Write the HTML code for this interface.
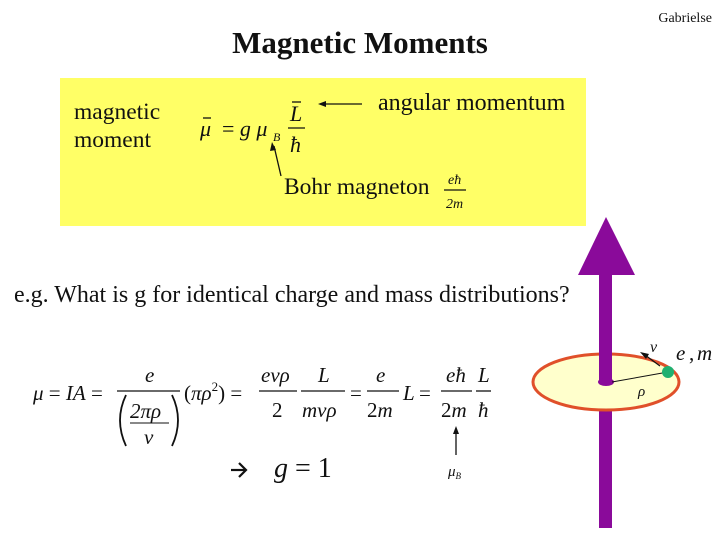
<html><body style="margin:0;background:#fff">
<svg width="720" height="539" xmlns="http://www.w3.org/2000/svg" font-family="Liberation Serif, serif" fill="#111">
<text x="712" y="22" font-size="14" text-anchor="end">Gabrielse</text>
<text x="360" y="53" font-size="31" font-weight="bold" text-anchor="middle">Magnetic Moments</text>
<rect x="60" y="78" width="526" height="148" fill="#ffff66"/>
<text x="74" y="119" font-size="23.5">magnetic</text>
<text x="74" y="147" font-size="23.5">moment</text>
<text x="200" y="136" font-size="22" font-style="italic">μ</text>
<line x1="203" y1="118" x2="211" y2="118" stroke="#111" stroke-width="1.3"/>
<text x="222" y="136" font-size="22">= <tspan font-style="italic">g μ</tspan></text>
<text x="273" y="141" font-size="12" font-style="italic">B</text>
<text x="290" y="121" font-size="22" font-style="italic">L</text>
<line x1="292" y1="102" x2="301" y2="102" stroke="#111" stroke-width="1.3"/>
<line x1="288" y1="128" x2="305" y2="128" stroke="#111" stroke-width="1.3"/>
<text x="290" y="152" font-size="22" font-style="italic">ħ</text>
<line x1="322" y1="104" x2="362" y2="104" stroke="#111" stroke-width="1.3"/>
<polygon points="318,104 326,101 326,107" fill="#111"/>
<text x="378" y="110" font-size="24">angular momentum</text>
<line x1="274" y1="146" x2="281" y2="176" stroke="#111" stroke-width="1.3"/>
<polygon points="272,142 270,151 276,150" fill="#111"/>
<text x="284" y="194" font-size="23.5">Bohr magneton</text>
<text x="448" y="184" font-size="14" font-style="italic">eħ</text>
<line x1="444" y1="190" x2="466" y2="190" stroke="#111" stroke-width="1.2"/>
<text x="446" y="208" font-size="14" font-style="italic">2m</text>
<text x="14" y="302" font-size="24">e.g. What is g for identical charge and mass distributions?</text>
<g font-size="21">
<text x="33" y="400"><tspan font-style="italic">μ</tspan> = <tspan font-style="italic">IA</tspan> =</text>
<text x="145" y="382" font-style="italic">e</text>
<line x1="117" y1="391" x2="180" y2="391" stroke="#111" stroke-width="1.3"/>
<path d="M126,395 Q114,420 126,446" fill="none" stroke="#111" stroke-width="1.8"/>
<path d="M172,395 Q184,420 172,446" fill="none" stroke="#111" stroke-width="1.8"/>
<text x="130" y="418" font-style="italic">2πρ</text>
<line x1="130" y1="423" x2="169" y2="423" stroke="#111" stroke-width="1"/>
<text x="144" y="444" font-style="italic">v</text>
<text x="184" y="400">(<tspan font-style="italic">πρ</tspan><tspan font-size="13" dy="-9">2</tspan><tspan dy="9">) =</tspan></text>
<text x="261" y="382" font-style="italic">evρ</text>
<line x1="259" y1="391" x2="297" y2="391" stroke="#111" stroke-width="1.3"/>
<text x="272" y="417">2</text>
<text x="318" y="382" font-style="italic">L</text>
<line x1="301" y1="391" x2="345" y2="391" stroke="#111" stroke-width="1.3"/>
<text x="302" y="417" font-style="italic">mvρ</text>
<text x="350" y="400">=</text>
<text x="376" y="382" font-style="italic">e</text>
<line x1="367" y1="391" x2="399" y2="391" stroke="#111" stroke-width="1.3"/>
<text x="367" y="417">2<tspan font-style="italic">m</tspan></text>
<text x="403" y="400" font-style="italic">L</text>
<text x="419" y="400">=</text>
<text x="446" y="382" font-style="italic">eħ</text>
<line x1="441" y1="391" x2="472" y2="391" stroke="#111" stroke-width="1.3"/>
<text x="441" y="417">2<tspan font-style="italic">m</tspan></text>
<text x="478" y="382" font-style="italic">L</text>
<line x1="476" y1="391" x2="491" y2="391" stroke="#111" stroke-width="1.3"/>
<text x="478" y="417" font-style="italic">ħ</text>
</g>
<line x1="456" y1="455" x2="456" y2="430" stroke="#111" stroke-width="1.3"/>
<polygon points="456,426 453,434 459,434" fill="#111"/>
<text x="448" y="476" font-size="15" font-style="italic">μ<tspan font-size="9" dy="3">B</tspan></text>
<line x1="231" y1="470" x2="245" y2="470" stroke="#111" stroke-width="2.2"/>
<polyline points="239,463 246,470 239,477" fill="none" stroke="#111" stroke-width="2.2"/>
<text x="274" y="477" font-size="28"><tspan font-style="italic">g</tspan> = 1</text>
<rect x="599" y="400" width="13" height="128" fill="#8a0a9a"/>
<polygon points="606,217 578,275 635,275" fill="#8a0a9a"/>
<ellipse cx="606" cy="382" rx="73" ry="28" fill="#ffffcc" stroke="#e0502a" stroke-width="3"/>
<rect x="599" y="272" width="13" height="110" fill="#8a0a9a"/>
<ellipse cx="606" cy="382" rx="8" ry="4" fill="#8a0a9a"/>
<line x1="612" y1="382" x2="668" y2="372" stroke="#111" stroke-width="1"/>
<line x1="660" y1="366" x2="645" y2="355" stroke="#111" stroke-width="1.2"/>
<polygon points="640,352 649,354 646,359" fill="#111"/>
<circle cx="668" cy="372" r="6" fill="#20b070"/>
<text x="650" y="352" font-size="16" font-style="italic">v</text>
<text x="676" y="360" font-size="21" font-style="italic">e</text><text x="689" y="360" font-size="21">,</text><text x="697" y="360" font-size="21" font-style="italic">m</text>
<text x="638" y="396" font-size="15" font-style="italic">ρ</text>
</svg>
</body></html>
